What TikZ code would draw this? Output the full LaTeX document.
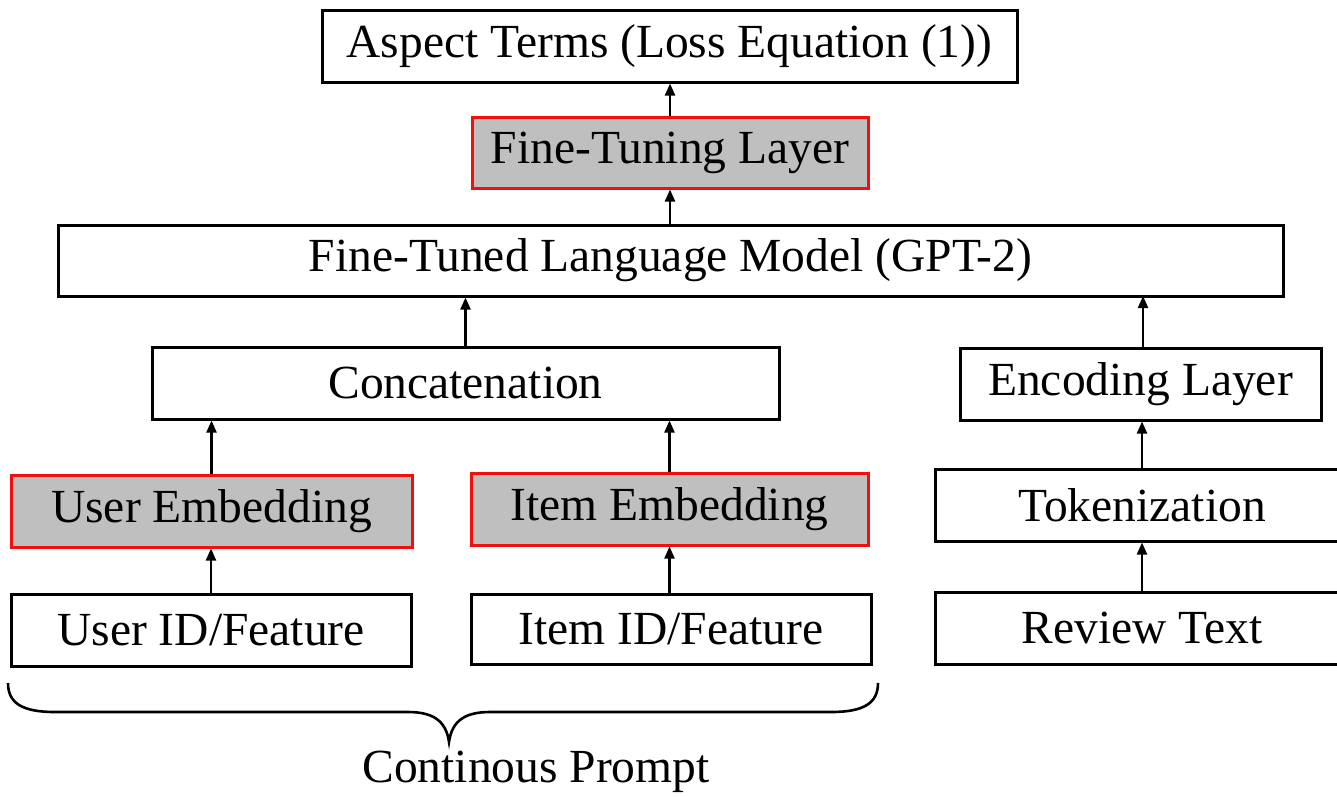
\documentclass[tikz,border=0pt]{standalone}
\usepackage{fontspec}
\setmainfont{Liberation Serif}
\usetikzlibrary{arrows.meta}
\definecolor{boxgray}{HTML}{BFBFBF}
\definecolor{boxred}{HTML}{F01010}
\begin{document}
\begin{tikzpicture}[x=1pt,y=-1pt,
  every node/.style={font=\fontsize{47.5}{52}\selectfont},
  plain/.style={draw=black,line width=3pt,fill=white,inner sep=0pt,rectangle},
  hilite/.style={draw=boxred,line width=3pt,fill=boxgray,inner sep=0pt,rectangle},
  flow/.style={line width=2.2pt,-{Triangle[width=10pt,length=12pt]}}]
\useasboundingbox (0,0) rectangle (1337,796);
\clip (0,0) rectangle (1337,796);
% top of the stack
\node[plain,minimum width=695pt,minimum height=72pt] (aspect) at (669.5,46) {Aspect Terms (Loss Equation (1))};
\node[hilite,minimum width=396pt,minimum height=71pt] (fine) at (670,152.5) {Fine-Tuning Layer};
\node[plain,minimum width=1225pt,minimum height=71pt] (lm) at (670.5,260.5) {Fine-Tuned Language Model (GPT-2)};
% prompt branch
\node[plain,minimum width=627pt,minimum height=72pt] (concat) at (465.5,383) {Concatenation};
\node[hilite,minimum width=401pt,minimum height=72pt] (uemb) at (211.5,511) {User Embedding};
\node[hilite,minimum width=397pt,minimum height=72pt] (iemb) at (669.5,509) {Item Embedding};
\node[plain,minimum width=400pt,minimum height=72pt] (uid) at (211,630) {User ID/Feature};
\node[plain,minimum width=400pt,minimum height=70pt] (iid) at (671,629) {Item ID/Feature};
% text branch
\node[plain,minimum width=361pt,minimum height=72pt] (enc) at (1140.5,384) {Encoding Layer};
\node[plain,minimum width=414pt,minimum height=72pt] (tok) at (1142,505) {Tokenization};
\node[plain,minimum width=414pt,minimum height=72pt] (rev) at (1142,628) {Review Text};
% connectors
\draw[flow] (fine.north) -- (fine.north |- aspect.south);
\draw[flow] (lm.north -| fine.south) -- (fine.south);
\draw[flow] (concat.north) -- (concat.north |- lm.south);
\draw[flow] (1143,348) -- (1143,296);
\draw[flow] (uemb.north) -- (uemb.north |- concat.south);
\draw[flow] (iemb.north) -- (iemb.north |- concat.south);
\draw[flow] (uid.north) -- (uid.north |- uemb.south);
\draw[flow] (iid.north -| iemb.south) -- (iemb.south);
\draw[flow] (tok.north) -- (tok.north |- enc.south);
\draw[flow] (rev.north) -- (rev.north |- tok.south);
% brace under the prompt inputs
\draw[line width=2.6pt] (8,683) .. controls (8,703) and (22,712) .. (55,712)
  -- (408,712) .. controls (432,712) and (446,720) .. (449,742)
  .. controls (452,720) and (466,712) .. (490,712)
  -- (831,712) .. controls (864,712) and (878,703) .. (878,683);
\node (prompt) at (536,772) {Continous Prompt};
\end{tikzpicture}
\end{document}
